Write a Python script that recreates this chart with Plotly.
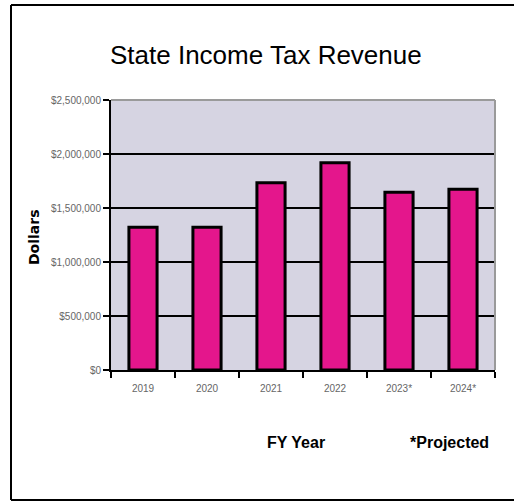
import plotly.graph_objects as go

years = ["2019", "2020", "2021", "2022", "2023*", "2024*"]
revenue = [1321000, 1321000, 1734000, 1920000, 1645000, 1673000]
y_ticks = [0, 500000, 1000000, 1500000, 2000000, 2500000]
y_tick_labels = ["$0", "$500,000", "$1,000,000", "$1,500,000", "$2,000,000", "$2,500,000"]

W, H = 514, 502
L, R, T, B = 111, 495, 100, 370
pw, ph = R - L, B - T

def px(x):
    return (x - L) / pw

def py(y):
    return (B - y) / ph

SANS = "Liberation Sans, Arial, sans-serif"

fig = go.Figure(go.Bar(
    x=years, y=revenue, width=0.44,
    marker=dict(color="#E4168C", line=dict(color="black", width=3)),
))

frame = dict(color="black", width=2)

fig.update_layout(
    width=W, height=H,
    margin=dict(l=L, r=W - R, t=T, b=H - B),
    paper_bgcolor="white",
    plot_bgcolor="#D6D4E2",
    showlegend=False,
    xaxis=dict(
        type="category", tickson="boundaries", ticks="outside", ticklen=6,
        tickwidth=2, tickcolor="black", showline=True, linecolor="black",
        linewidth=2, showgrid=False, ticklabelstandoff=8,
        tickfont=dict(family=SANS, size=10, color="#666666"),
    ),
    yaxis=dict(
        range=[0, 2500000], tickmode="array", tickvals=y_ticks, ticktext=y_tick_labels,
        ticks="outside", ticklen=6, tickwidth=2, tickcolor="black",
        showline=True, linecolor="black", linewidth=2,
        showgrid=True, gridcolor="black", gridwidth=2, zeroline=False,
        tickfont=dict(family=SANS, size=10, color="#666666"),
    ),
    shapes=[
        dict(type="line", xref="paper", yref="paper", x0=0, x1=1, y0=1, y1=1,
             line=dict(color="#9A9A9A", width=2), layer="above"),
        dict(type="line", xref="paper", yref="paper", x0=1, x1=1, y0=0, y1=1,
             line=dict(color="#9A9A9A", width=2), layer="above"),
        dict(type="line", xref="paper", yref="paper", x0=px(11), x1=px(514), y0=py(5), y1=py(5),
             line=frame, layer="below"),
        dict(type="line", xref="paper", yref="paper", x0=px(11), x1=px(514), y0=py(500), y1=py(500),
             line=frame, layer="below"),
        dict(type="line", xref="paper", yref="paper", x0=px(11), x1=px(11), y0=py(500), y1=py(5),
             line=frame, layer="below"),
    ],
    annotations=[
        dict(text="State Income Tax Revenue", xref="paper", yref="paper",
             x=px(266), y=py(55), showarrow=False, xanchor="center", yanchor="middle",
             font=dict(family=SANS, size=26, color="black")),
        dict(text="<b>Dollars</b>", xref="paper", yref="paper",
             x=px(34), y=py(237), showarrow=False, textangle=-90,
             xanchor="center", yanchor="middle",
             font=dict(family="DejaVu Sans, sans-serif", size=14, color="black")),
        dict(text="<b>FY Year</b>", xref="paper", yref="paper",
             x=px(296), y=py(442), showarrow=False, xanchor="center", yanchor="middle",
             font=dict(family=SANS, size=16, color="black")),
        dict(text="<b>*Projected</b>", xref="paper", yref="paper",
             x=px(449), y=py(442), showarrow=False, xanchor="center", yanchor="middle",
             font=dict(family=SANS, size=16, color="black")),
    ],
)

fig.write_html("out.html")
